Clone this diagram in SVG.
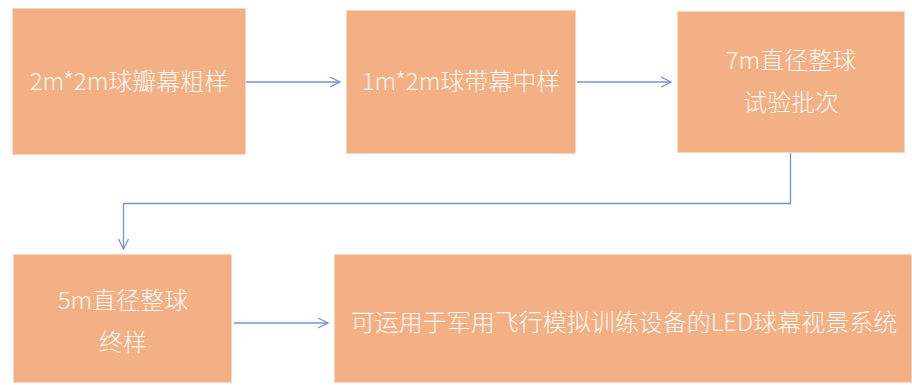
<svg xmlns="http://www.w3.org/2000/svg" width="912" height="385" viewBox="0 0 912 385">
<defs>
<style>
.box{fill:#F2B084;stroke:#F9D6BC;stroke-width:1}
.t{font-family:"Noto Sans CJK SC","Noto Sans",sans-serif;font-size:24px;font-weight:300;fill:#FFF8F2;text-anchor:middle}
.c{fill:none;stroke:#7394D4;stroke-width:1.3}
</style>
<marker id="ah" viewBox="0 0 12 12" refX="11" refY="6" markerWidth="12" markerHeight="12" markerUnits="userSpaceOnUse" orient="auto">
<path d="M1,1 L11,6 L1,11" fill="none" stroke="#7394D4" stroke-width="1.3"/>
</marker>
</defs>
<rect width="912" height="385" fill="#FFFFFF"/>
<g id="n1"><rect class="box" x="12.5" y="8.5" width="233" height="146"/><text class="t" x="129" y="90">2m*2m球瓣幕粗样</text></g>
<g id="n2"><rect class="box" x="346.5" y="10.5" width="229" height="143"/><text class="t" x="461" y="90">1m*2m球带幕中样</text></g>
<g id="n3"><rect class="box" x="677.5" y="11.5" width="227" height="141"/><text class="t" x="791" y="69">7m直径整球</text><text class="t" x="791" y="111">试验批次</text></g>
<g id="n4"><rect class="box" x="13.5" y="254.5" width="218" height="128"/><text class="t" x="123" y="309">5m直径整球</text><text class="t" x="123" y="351">终样</text></g>
<g id="n5"><rect class="box" x="334.5" y="254.5" width="577" height="128"/><text class="t" x="624" y="331">可运用于军用飞行模拟训练设备的LED球幕视景系统</text></g>
<g id="connectors">
<path class="c" d="M246,82 H340" marker-end="url(#ah)"/>
<path class="c" d="M577,82 H671" marker-end="url(#ah)"/>
<path class="c" d="M790.5,153 V203.5 H123.5 V249" marker-end="url(#ah)"/>
<path class="c" d="M234,323 H328" marker-end="url(#ah)"/>
</g>
</svg>
